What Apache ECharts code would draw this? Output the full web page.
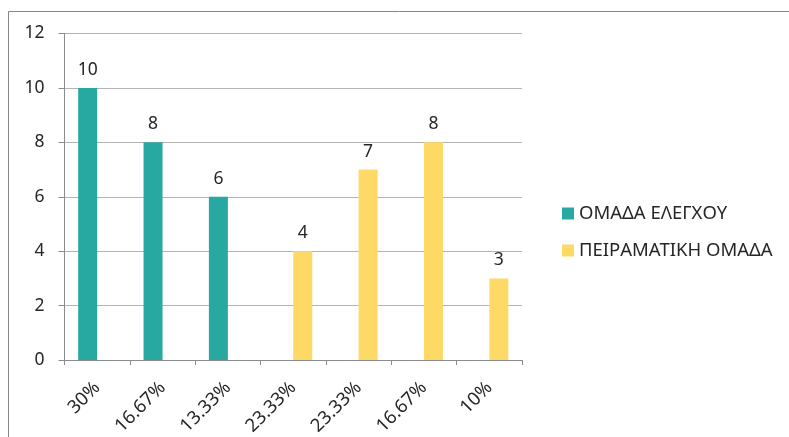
<!DOCTYPE html>
<html>
<head>
<meta charset="utf-8">
<style>
  html, body { margin: 0; padding: 0; background: #fff; }
  #chart { width: 789px; height: 437px; }
</style>
<script src="https://cdn.jsdelivr.net/npm/echarts@6/dist/echarts.min.js"></script>
</head>
<body>
<div id="chart"></div>
<script>
// Category labels (share of each group)
const categories = ['30%', '16.67%', '13.33%', '23.33%', '23.33%', '16.67%', '10%'];
// Counts per group; null where the group has no bar
const controlGroup = [10, 8, 6, null, null, null, null];
const experimentalGroup = [null, null, null, 4, 7, 8, 3];
const seriesNames = ['ΟΜΑΔΑ ΕΛΕΓΧΟΥ', 'ΠΕΙΡΑΜΑΤΙΚΗ ΟΜΑΔΑ'];

const textColor = '#262626';
const font = '"Noto Sans", "Open Sans", sans-serif';

const chart = echarts.init(document.getElementById('chart'));
chart.setOption({
  animation: false,
  textStyle: { fontFamily: font },
  graphic: [{
    type: 'rect',
    shape: { x: 8.5, y: 11.5, width: 900, height: 600 },
    style: { fill: 'none', stroke: '#878787', lineWidth: 1 },
    silent: true
  }],
  grid: {
    left: 64.5, right: 267, top: 33.5, bottom: 77,
    containLabel: false,
    outerBoundsMode: 'none'
  },
  legend: {
    orient: 'vertical',
    left: 557, top: 199,
    itemWidth: 12, itemHeight: 12, itemGap: 18,
    icon: 'rect',
    textStyle: { color: textColor, fontSize: 18.5, fontFamily: font },
    data: seriesNames
  },
  xAxis: {
    type: 'category',
    data: categories,
    axisLine: { lineStyle: { color: '#8c8c8c', width: 1 } },
    axisTick: { show: true, length: 5, lineStyle: { color: '#8c8c8c' } },
    axisLabel: { rotate: 45, margin: 25, color: textColor, fontSize: 18.5, fontFamily: font, interval: 0 },
    splitLine: { show: false }
  },
  yAxis: {
    type: 'value',
    min: 0, max: 12, interval: 2,
    axisLine: { show: true, lineStyle: { color: '#8c8c8c', width: 1 } },
    axisTick: { show: true, length: 6, inside: false, lineStyle: { color: '#8c8c8c' } },
    axisLabel: { margin: 20, color: textColor, fontSize: 17.5, fontFamily: font },
    splitLine: { show: true, lineStyle: { color: '#b3b3b3', width: 1 } }
  },
  series: [
    {
      name: seriesNames[0],
      type: 'bar',
      data: controlGroup,
      barWidth: 19,
      barGap: '0%',
      itemStyle: { color: '#27a9a2' },
      label: { show: true, position: 'top', distance: 9, color: textColor, fontSize: 17.5, fontFamily: font }
    },
    {
      name: seriesNames[1],
      type: 'bar',
      data: experimentalGroup,
      barWidth: 19,
      barGap: '0%',
      itemStyle: { color: '#fed966' },
      label: { show: true, position: 'top', distance: 9, color: textColor, fontSize: 17.5, fontFamily: font }
    }
  ]
});
</script>
</body>
</html>
